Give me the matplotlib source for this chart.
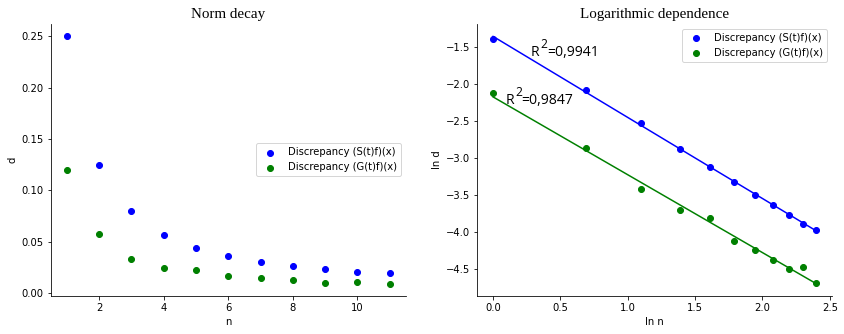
import numpy as np
import matplotlib.pyplot as plt

plt.rcParams['font.family'] = ['DejaVu Sans']

## data
n = [1, 2, 3, 4, 5, 6, 7, 8, 9, 10, 11]
d_s = [0.250, 0.125, 0.080, 0.056, 0.044, 0.036, 0.030, 0.026, 0.023, 0.020, 0.019]
d_g = [0.120, 0.057, 0.033, 0.024, 0.022, 0.016, 0.014, 0.012, 0.010, 0.011, 0.009]
ln_n = np.log(n)
ln_s = [-1.39, -2.08, -2.53, -2.88, -3.12, -3.32, -3.50, -3.64, -3.77, -3.89, -3.97]
ln_g = [-2.12, -2.87, -3.42, -3.70, -3.81, -4.12, -4.25, -4.38, -4.50, -4.47, -4.69]
labels = ['Discrepancy (S(t)f)(x)', 'Discrepancy (G(t)f)(x)']
r2_vals = ['=0,9941', '=0,9847']

fig, (ax1, ax2) = plt.subplots(1, 2, figsize=(844 / 72, 334 / 72), dpi=72)
fig.subplots_adjust(left=0.060, right=0.986, top=0.928, bottom=0.114, wspace=0.2)

## left: norm decay
ax1.scatter(n, d_s, color='blue', label=labels[0])
ax1.scatter(n, d_g, color='green', label=labels[1])
ax1.set_title('Norm decay', fontsize=15, family='Liberation Serif')
ax1.set_xlabel('n')
ax1.set_ylabel('d')
ax1.legend(loc='center right')

## right: log-log with fitted lines
ax2.scatter(ln_n, ln_s, color='blue', label=labels[0])
ax2.scatter(ln_n, ln_g, color='green', label=labels[1])
for ys, c in [(ln_s, 'blue'), (ln_g, 'green')]:
    k, b = np.polyfit(ln_n, ys, 1)
    ax2.plot(ln_n, k * ln_n + b, color=c)

# R^2 labels: R, raised 2, then value
for (x, y), val in zip([(0.28, -1.62), (0.09, -2.27)], r2_vals):
    kw = dict(family='Open Sans', textcoords='offset points')
    ax2.annotate('R', (x, y), xytext=(0, 0), fontsize=14, **kw)
    ax2.annotate('2', (x, y), xytext=(10, 8), fontsize=12, **kw)
    ax2.annotate(val, (x, y), xytext=(16, 0), fontsize=14, **kw)

ax2.set_title('Logarithmic dependence', fontsize=15, family='Liberation Serif')
ax2.set_xlabel('ln n')
ax2.set_ylabel('ln d')
ax2.legend(loc='upper right')

for ax in (ax1, ax2):
    ax.spines['top'].set_visible(False)
    ax.spines['right'].set_visible(False)

plt.savefig('out.png', dpi=72)
